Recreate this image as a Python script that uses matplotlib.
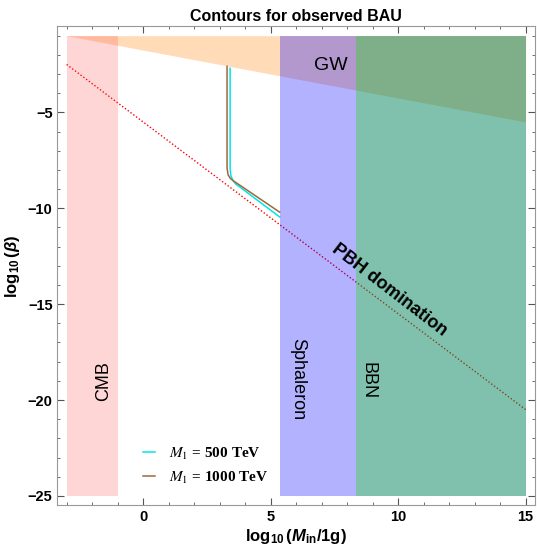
import numpy as np
import matplotlib
matplotlib.use("Agg")
import matplotlib.pyplot as plt
from matplotlib.font_manager import FontProperties
from matplotlib.ticker import MultipleLocator

plt.rcParams['font.family'] = ['Liberation Sans', 'DejaVu Sans']
plt.rcParams['mathtext.fontset'] = 'custom'
plt.rcParams['mathtext.rm'] = 'Liberation Sans:bold'
plt.rcParams['mathtext.bf'] = 'Liberation Sans:bold'
plt.rcParams['mathtext.it'] = 'Liberation Sans:italic:bold'

# constraint regions (log10 M_in ranges), all span beta from -25 to -1
y_bottom, y_top = -25, -1
cmb_x = [-3, -1]
sph_x = [5.35, 8.35]
bbn_x = [8.35, 15]
# GW bound: boundary line from (-3,-1) to (15,-5.5)
gw_x = [-3, 15]
gw_y = [-1, -5.5]
# PBH domination line
pbh_x = [-3, 15]
pbh_y = [-2.5, -20.5]

# contours for observed BAU
c500_x = [3.41, 3.41, 3.44, 3.52, 3.62, 5.35]
c500_y = [-2.7, -7.9, -8.3, -8.55, -8.72, -10.45]
c1000_x = [3.29, 3.29, 3.33, 3.42, 3.55, 5.35]
c1000_y = [-2.6, -7.9, -8.25, -8.45, -8.58, -10.2]

fig = plt.figure(figsize=(5.37, 5.52), dpi=100)
ax = fig.add_axes([0.107, 0.085, 0.889, 0.867])

ax.plot(pbh_x, pbh_y, color='red', ls=(0, (1, 1.5)), lw=1.0, zorder=1)

ax.fill_between(gw_x, gw_y, y_top, color='#ff9933', alpha=0.35, lw=0, zorder=2)
ax.fill_between(cmb_x, y_bottom, y_top, color='#ff3333', alpha=0.2, lw=0, zorder=3)
ax.fill_between(sph_x, y_bottom, y_top, color='#0000ff', alpha=0.3, lw=0, zorder=3)
ax.fill_between(bbn_x, y_bottom, y_top, color='#00855a', alpha=0.5, lw=0, zorder=3)

ax.plot(c500_x, c500_y, color='#00e5e5', lw=1.1, zorder=2.5, label=r'$M_1$ = 500 TeV')
ax.plot(c1000_x, c1000_y, color='#9b6a3c', lw=1.1, zorder=2.5, label=r'$M_1$ = 1000 TeV')

ax.text(7.37, -2.55, 'GW', fontsize=14, ha='center', va='center', zorder=5)
ax.text(-1.55, -19.0, 'CMB', fontsize=13, rotation=90, ha='center', va='center', zorder=5)
ax.text(6.06, -18.9, 'Sphaleron', fontsize=13, rotation=270, ha='center', va='center', zorder=5)
ax.text(8.82, -19.0, 'BBN', fontsize=13, rotation=270, ha='center', va='center', zorder=5)
ax.text(9.65, -14.25, 'PBH domination', fontsize=13, fontweight='bold', rotation=-37.5,
        ha='center', va='center', zorder=5)

leg_font = FontProperties(family='Liberation Serif', weight='bold', size=11, math_fontfamily='stix')
ax.legend(loc='lower left', bbox_to_anchor=(0.15, 0.012), frameon=False, prop=leg_font,
          handlelength=0.8, handletextpad=0.9, labelspacing=0.5)

ax.set_xlim(-3.36, 15.36)
ax.set_ylim(-25.48, -0.52)
ax.xaxis.set_major_locator(MultipleLocator(5))
ax.xaxis.set_minor_locator(MultipleLocator(1))
ax.yaxis.set_major_locator(MultipleLocator(5))
ax.yaxis.set_minor_locator(MultipleLocator(1))
ax.tick_params(which='both', direction='in', top=True, right=True, colors='#555555',
               labelcolor='black', labelsize=10.5)
ax.tick_params(which='major', length=5)
ax.tick_params(which='minor', length=2.5)
for lab in ax.get_xticklabels() + ax.get_yticklabels():
    lab.set_fontweight('bold')
for s in ax.spines.values():
    s.set_color('#999999')

ax.set_xlabel(r'$\log_{10}(M_{\mathrm{in}}/1\mathrm{g})$', fontsize=12, labelpad=2)
ax.set_ylabel(r'$\log_{10}(\beta)$', fontsize=12, labelpad=4)
ax.set_title('Contours for observed BAU', fontsize=11.5, fontweight='bold', pad=4)

fig.savefig('out.png', dpi=100)
